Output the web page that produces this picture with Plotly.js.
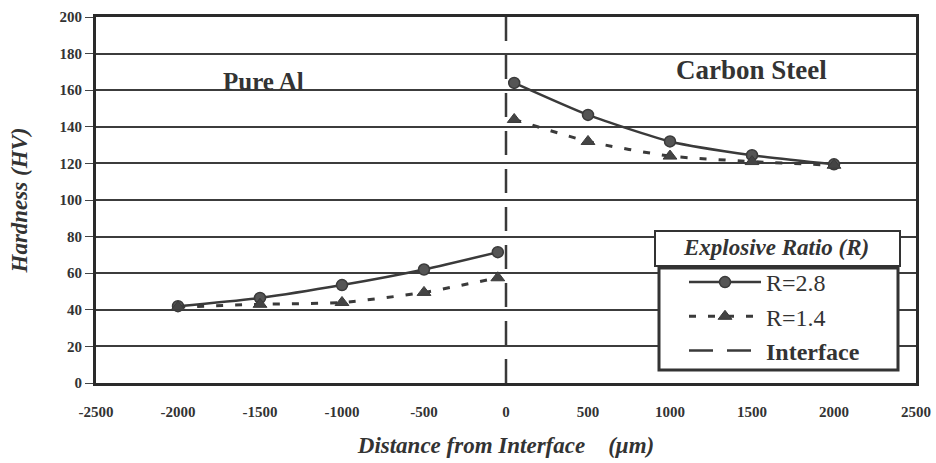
<!DOCTYPE html>
<html>
<head>
<meta charset="utf-8">
<script src="https://cdn.plot.ly/plotly-3.0.1.min.js"></script>
<style>body{margin:0;background:#fff;} #chart{width:936px;height:463px;}</style>
</head>
<body>
<div id="chart"></div>
<script>
// Data
const distR28 = [-2000, -1500, -1000, -500, -50];
const hardR28 = [42, 46.5, 53.5, 62, 71.5];
const distR28cs = [50, 500, 1000, 1500, 2000];
const hardR28cs = [164, 146.5, 132, 124.5, 119.5];
const distR14 = [-2000, -1500, -1000, -500, -50];
const hardR14 = [41.5, 43, 44, 49.5, 57.5];
const distR14cs = [50, 500, 1000, 1500, 2000];
const hardR14cs = [144, 132, 124, 121, 119];
const interfaceX = [0, 0];
const interfaceY = [0, 200];
const xTicks = [-2500, -2000, -1500, -1000, -500, 0, 500, 1000, 1500, 2000, 2500];
const yTicks = [0, 20, 40, 60, 80, 100, 120, 140, 160, 180, 200];
const seriesNames = ["R=2.8", "R=1.4", "<b>Interface</b>"];

const ink = "#3a3a3a";
const serif = "Times New Roman";
const nb = "\u00a0";

const traces = [
  {x: distR28, y: hardR28, mode: "lines+markers", name: seriesNames[0], legendgroup: "a",
   line: {color: ink, width: 2.5, shape: "spline", smoothing: 0.6},
   marker: {symbol: "circle", size: 11, color: "#555", line: {color: ink, width: 1.5}}},
  {x: distR28cs, y: hardR28cs, mode: "lines+markers", name: seriesNames[0], legendgroup: "a", showlegend: false,
   line: {color: ink, width: 2.5, shape: "spline", smoothing: 0.6},
   marker: {symbol: "circle", size: 11, color: "#555", line: {color: ink, width: 1.5}}},
  {x: distR14, y: hardR14, mode: "lines+markers", name: seriesNames[1], legendgroup: "b",
   line: {color: ink, width: 3, dash: "7px,12px", shape: "spline", smoothing: 0.6},
   marker: {symbol: "triangle-up", size: 12, color: "#444", line: {color: ink, width: 1}}},
  {x: distR14cs, y: hardR14cs, mode: "lines+markers", name: seriesNames[1], legendgroup: "b", showlegend: false,
   line: {color: ink, width: 3, dash: "7px,12px", shape: "spline", smoothing: 0.6},
   marker: {symbol: "triangle-up", size: 12, color: "#444", line: {color: ink, width: 1}}},
  {x: interfaceX, y: interfaceY, mode: "lines", name: seriesNames[2],
   line: {color: ink, width: 2.5, dash: "24px,14px"}}
];

const layout = {
  width: 936, height: 463,
  margin: {l: 96, r: 20, t: 17, b: 80},
  paper_bgcolor: "#fff", plot_bgcolor: "#fff",
  font: {family: serif, color: "#333"},
  showlegend: true,
  legend: {
    x: (684 - 96) / 820, y: (383 - 260) / 366, xanchor: "left", yanchor: "top",
    bgcolor: "rgba(0,0,0,0)", borderwidth: 0,
    font: {family: serif, size: 24, color: "#333"},
    itemwidth: 72, tracegroupgap: 0
  },
  xaxis: {
    range: [-2500, 2500], tickvals: xTicks, ticktext: xTicks.map(String),
    showgrid: false, zeroline: false,
    showline: true, linecolor: "#2a2a2a", linewidth: 3, mirror: true,
    ticks: "", ticklabelstandoff: 13,
    tickfont: {family: serif, size: 15, color: "#333", weight: "bold"},
    title: {text: nb.repeat(6) + "Distance from Interface" + nb.repeat(4) + "(\u03bcm)", standoff: 18,
            font: {family: serif, size: 23, color: "#333", weight: "bold", style: "italic"}},
    automargin: false
  },
  yaxis: {
    range: [0, 200], tickvals: yTicks, ticktext: yTicks.map(String),
    showgrid: true, gridcolor: "#3c3c3c", gridwidth: 2, zeroline: false,
    showline: true, linecolor: "#2a2a2a", linewidth: 3, mirror: true,
    ticks: "outside", ticklen: 8, tickcolor: "#444", tickwidth: 1,
    tickfont: {family: serif, size: 15, color: "#333", weight: "bold"},
    title: {text: "Hardness (HV)", standoff: 26,
            font: {family: serif, size: 23, color: "#333", weight: "bold", style: "italic"}},
    automargin: false
  },
  shapes: [
    {type: "rect", xref: "paper", yref: "paper", layer: "above",
     x0: (655 - 96) / 820, x1: (900 - 96) / 820, y0: (383 - 266) / 366, y1: (383 - 231) / 366,
     fillcolor: "#fff", line: {color: "#333", width: 2}},
    {type: "rect", xref: "paper", yref: "paper", layer: "above",
     x0: (659 - 96) / 820, x1: (898 - 96) / 820, y0: (383 - 370) / 366, y1: (383 - 268) / 366,
     fillcolor: "#fff", line: {color: "#333", width: 3}}
  ],
  annotations: [
    {text: "Pure Al", x: -1480, y: 164.5, xref: "x", yref: "y", showarrow: false,
     font: {family: serif, size: 25, color: "#333", weight: "bold"}},
    {text: "Carbon Steel", x: 1495, y: 171, xref: "x", yref: "y", showarrow: false,
     font: {family: serif, size: 27, color: "#333", weight: "bold"}},
    {text: "Explosive Ratio (R)", xref: "paper", yref: "paper", showarrow: false,
     xanchor: "center", yanchor: "middle",
     x: (776 - 96) / 820, y: (383 - 248) / 366,
     font: {family: serif, size: 23, color: "#333", weight: "bold", style: "italic"}}
  ]
};

Plotly.newPlot("chart", traces, layout, {displayModeBar: false, staticPlot: true});
</script>
</body>
</html>
